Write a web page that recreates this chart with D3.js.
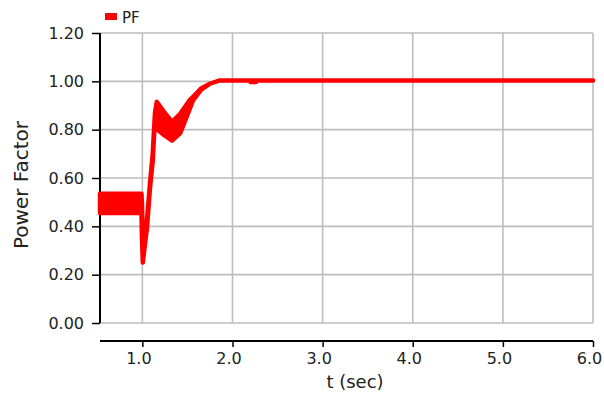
<!DOCTYPE html>
<html>
<head>
<meta charset="utf-8">
<script src="https://cdn.jsdelivr.net/npm/d3@7"></script>
<style>
  body { margin: 0; background: #fff; }
  text { font-family: "DejaVu Sans", sans-serif; fill: #222; }
</style>
</head>
<body>
<div id="chart"></div>
<script>
// values; the trace is a fast oscillation, kept as low/high envelope
const tSec   = [0.53, 0.99, 0.995, 1.005, 1.02, 1.05, 1.085, 1.115, 1.14, 1.16, 1.17, 1.25, 1.33, 1.42, 1.52, 1.56, 1.65, 1.75, 1.85, 2.195, 2.20, 2.26, 2.265, 6.0];
const pfLow  = [0.455, 0.455, 0.36, 0.25, 0.30, 0.39, 0.56, 0.67, 0.85, 0.90, 0.80, 0.775, 0.755, 0.786, 0.88, 0.92, 0.965, 0.99, 1.003, 1.003, 0.997, 0.997, 1.003, 1.003];
const pfHigh = [0.535, 0.535, 0.50, 0.36, 0.36, 0.42, 0.58, 0.70, 0.87, 0.915, 0.91, 0.869, 0.832, 0.866, 0.92, 0.935, 0.97, 0.99, 1.003, 1.003, 1.003, 1.003, 1.003, 1.003];

const yTicks = [0, 0.2, 0.4, 0.6, 0.8, 1.0, 1.2];
const xTicks = [1, 2, 3, 4, 5, 6];

const W = 604, H = 394;
const svg = d3.select("#chart").append("svg")
  .attr("width", W).attr("height", H);

const x = d3.scaleLinear().domain([0.53, 6.0]).range([100, 593]);
const y = d3.scaleLinear().domain([0, 1.2]).range([323, 33]);

// grid
const grid = svg.append("g").attr("stroke", "#bdbdbd").attr("stroke-width", 1.6);
grid.selectAll(".h").data(yTicks).enter().append("line")
  .attr("x1", x.range()[0]).attr("x2", x.range()[1])
  .attr("y1", d => y(d)).attr("y2", d => y(d));
grid.selectAll(".v").data(xTicks).enter().append("line")
  .attr("x1", d => x(d)).attr("x2", d => x(d))
  .attr("y1", y(0)).attr("y2", y(1.2));

// y axis
const yAxis = svg.append("g")
  .attr("transform", `translate(${x.range()[0]},0)`)
  .call(d3.axisLeft(y).tickValues(yTicks).tickFormat(d3.format(".2f")).tickSize(8).tickPadding(8));
yAxis.select(".domain").attr("stroke", "#000").attr("stroke-width", 2).attr("d", `M0,${y(1.2)}V${y(0)}`);
yAxis.selectAll(".tick line").attr("stroke", "#000").attr("stroke-width", 1.5);
yAxis.selectAll("text").style("font-size", "16px").style("font-family", "DejaVu Sans").attr("fill", "#222");

// x axis, set a little below the plot
const xAxis = svg.append("g")
  .attr("transform", "translate(0,341)")
  .call(d3.axisBottom(x).tickValues(xTicks).tickFormat(d3.format(".1f")).tickSize(6).tickPadding(6));
xAxis.select(".domain").attr("stroke", "#000").attr("stroke-width", 2).attr("d", `M${x.range()[0]},0H${x.range()[1]}`);
xAxis.selectAll(".tick line").attr("stroke", "#000").attr("stroke-width", 1.5);
xAxis.selectAll("text").attr("dx", -4).style("font-size", "16px").style("font-family", "DejaVu Sans").attr("fill", "#222");

// PF trace
const rows = tSec.map((t, i) => ({ t, lo: pfLow[i], hi: pfHigh[i] }));
const area = d3.area()
  .x(d => x(d.t))
  .y0(d => y(d.lo))
  .y1(d => y(d.hi));
svg.append("path")
  .datum(rows)
  .attr("d", area)
  .attr("fill", "#ff0000")
  .attr("stroke", "#ff0000")
  .attr("stroke-width", 4.5)
  .attr("stroke-linejoin", "round");

// axis titles
svg.append("text")
  .attr("transform", `translate(28,${(y(0) + y(1.2)) / 2 + 7}) rotate(-90)`)
  .attr("text-anchor", "middle")
  .style("font-size", "20px")
  .text("Power Factor");

svg.append("text")
  .attr("x", 355).attr("y", 388)
  .attr("text-anchor", "middle")
  .style("font-size", "18px")
  .text("t (sec)");

// legend
const leg = svg.append("g");
leg.append("rect").attr("x", 105).attr("y", 13).attr("width", 12).attr("height", 7).attr("fill", "#ff0000");
leg.append("text").attr("x", 122).attr("y", 23).style("font-size", "15px").text("PF");
</script>
</body>
</html>
